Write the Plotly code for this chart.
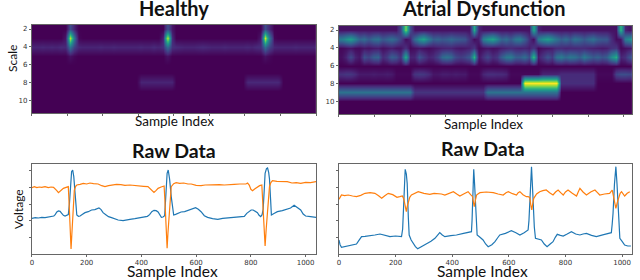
import plotly.graph_objects as go

# ---- Healthy scalogram: one list per scale, 64 columns ----
h2 = [0]*8 + [.24,.1] + [0]*20 + [.24,.06] + [0]*20 + [.24,.1] + [0]*10
h3 = [0]*7 + [.06,.9,.4,.02] + [0]*18 + [.1,.92,.12] + [0]*19 + [.06,.94,.38,.02] + [0]*9
h4 = [.1,.1,.11,.1,.11,.1,.12,.11,.38,.2,.11,.1,.1,.1,.1,.11,.1,.1,.11,.1,.1,.1,.1,.1,.11,.1,.1,.12,.1,.13,.36,.14,.12,.11,.1,.1,.1,.11,.12,.11,.1,.1,.1,.11,.1,.1,.1,.1,.11,.1,.12,.13,.36,.2,.11,.1,.1,.1,.1,.11,.1,.1,.1,.1]
h5 = [0]*8 + [.05,.02] + [0]*20 + [.05] + [0]*21 + [.05,.02] + [0]*11
h6 = [0]*64
h7 = [0]*64
h8 = [0]*24 + [.1]*8 + [0]*16 + [.11]*8 + [0]*8
h9 = [0]*64
h10 = [0]*64
h11 = [0]*64

# ---- Atrial dysfunction scalogram ----
a2 = [.05]*13 + [.2,.8,.25] + [.05]*13 + [.6,.1] + [.05]*11 + [.6,.1] + [.05]*17 + [.65,.1,.05,.05]
a2 = a2[:64]
a3 = [.42,.5,.56,.45,.32,.36,.28,.36,.38,.28,.32,.36,.3,.2,.03,.1,.35,.5,.58,.42,.3,.32,.28,.3,.34,.3,.28,.26,.14,.03,.08,.42,.52,.58,.46,.32,.36,.28,.4,.42,.3,.14,.03,.4,.5,.56,.48,.38,.3,.36,.28,.38,.34,.28,.34,.38,.3,.28,.28,.12,.03,.05,.42,.5]
a4 = [.02,.04,.06,.03,.03,.06,.05,.07,.08,.04,.06,.08,.05,.05,.14,.02,.04,.06,.04,.03,.05,.07,.09,.1,.1,.07,.06,.07,.09,.16,.02,.04,.06,.04,.05,.08,.1,.12,.1,.09,.1,.08,.16,.02,.05,.06,.08,.12,.12,.1,.11,.11,.12,.12,.1,.09,.08,.07,.08,.14,.16,.02,.04,.06]
a5 = [.04,.1,.22,.1,.06,.25,.2,.3,.32,.12,.18,.3,.26,.14,.62,.1,.1,.26,.18,.1,.12,.2,.34,.38,.34,.22,.18,.22,.28,.65,.06,.14,.22,.12,.16,.3,.4,.42,.3,.3,.36,.24,.68,.08,.16,.26,.18,.38,.42,.34,.4,.38,.3,.42,.34,.28,.32,.26,.3,.5,.62,.1,.14,.26]
a6 = [0]*64
a7 = [.14,.16,.16,.12,.07,.07,.07,.08,.07,.07,.08,.07,.02,.02,.02,.02,.15,.17,.16,.12,.06,.06,.08,.08,.07,.08,.07,.07,.02,.02,.02,.1,.13,.13,.12,.12,.1,.02,.02,.02,.02,.02,.02,.02,.1,.1,.1,.1,.12,.12,.12,.12,.12,.12,.12,.12,.02,.02,.02,.02,.2,.24,.24,.22]
a8 = [0]*40 + [1.0]*8 + [.13]*8 + [0]*8
a9 = [.38]*16 + [.15]*16 + [.38]*16 + [0]*16
a10 = [0]*64
a11 = [0]*64

scales = [2, 3, 4, 5, 6, 7, 8, 9, 10, 11]

# ---- Raw ECG traces: (sample index, voltage) ----
healthy_blue = [(0,107),(12,109),(24,108),(36,110),(48,109),(60,111),(73,112),(80,114),(85,118),(91,126),(97,129),(103,128),(109,122),(115,116),(121,114),(127,115),(133,118),(137,150),(141,215),(145,247),(149,252),(153,232),(157,190),(161,135),(164,117),(170,113),(176,114),(185,119),(194,124),(206,127),(218,132),(230,133),(245,138),(252,134),(260,124),(270,118),(280,112),(291,109),(303,106),(315,102),(333,100),(345,103),(358,104),(376,106),(394,109),(412,110),(422,113),(430,118),(438,127),(446,131),(454,130),(461,126),(467,116),(473,110),(479,111),(485,115),(490,185),(494,242),(498,252),(503,225),(509,172),(514,130),(518,117),(525,119),(533,122),(545,126),(558,127),(570,130),(584,134),(598,139),(608,134),(618,127),(630,115),(642,110),(660,106),(679,104),(697,107),(715,108),(739,110),(757,112),(776,113),(785,122),(794,129),(801,132),(808,132),(816,128),(824,124),(830,116),(836,112),(841,118),(845,135),(849,195),(852,242),(857,256),(861,258),(865,245),(868,225),(872,165),(875,117),(886,122),(897,127),(915,130),(933,134),(945,138),(958,146),(970,140),(982,132),(991,120),(1000,114),(1018,112),(1038,110)]
healthy_orange = [(0,199),(9,202),(18,199),(27,201),(36,200),(48,202),(60,199),(70,201),(79,200),(85,196),(91,190),(97,184),(106,190),(115,197),(125,200),(133,202),(136,150),(139,70),(143,15),(146,60),(150,120),(155,192),(160,203),(164,207),(176,209),(188,212),(200,210),(212,213),(225,211),(242,210),(255,205),(267,202),(280,205),(294,207),(309,209),(325,208),(340,206),(358,207),(376,205),(391,204),(408,203),(424,202),(430,197),(436,192),(442,186),(446,185),(454,191),(461,197),(472,201),(483,204),(486,160),(489,100),(494,17),(497,62),(500,102),(505,170),(509,202),(518,211),(527,214),(540,212),(555,213),(570,210),(582,210),(600,206),(618,205),(633,207),(650,208),(667,207),(685,208),(703,207),(720,209),(739,209),(760,210),(782,210),(788,213),(794,207),(800,194),(806,190),(815,196),(824,202),(832,205),(840,207),(843,160),(847,85),(852,24),(856,75),(861,142),(865,185),(868,202),(873,214),(879,220),(895,218),(915,218),(933,217),(950,213),(966,214),(982,212),(1000,215),(1018,214),(1038,217)]
atrial_blue = [(0,42),(4,28),(9,20),(20,22),(33,24),(48,28),(62,30),(70,40),(80,52),(92,53),(109,54),(127,57),(145,60),(162,56),(180,52),(200,54),(221,52),(225,75),(229,170),(234,254),(238,240),(241,212),(245,110),(248,57),(255,42),(262,32),(270,22),(278,16),(292,22),(309,30),(325,38),(339,47),(348,56),(356,64),(365,57),(374,52),(395,55),(415,57),(440,62),(468,67),(470,100),(472,142),(476,254),(479,210),(482,142),(485,80),(488,57),(498,50),(509,42),(518,30),(527,22),(540,28),(551,37),(560,48),(568,57),(588,62),(609,70),(625,64),(639,57),(654,64),(668,72),(671,100),(674,162),(680,262),(683,210),(686,142),(690,80),(694,47),(705,44),(715,42),(725,30),(735,22),(746,30),(756,37),(764,50),(771,59),(782,56),(792,54),(806,60),(821,67),(836,60),(851,57),(862,60),(874,62),(892,56),(909,52),(935,58),(962,64),(965,90),(968,122),(973,210),(978,262),(982,210),(986,142),(989,80),(992,47),(1000,38),(1009,27),(1020,24),(1031,24)]
atrial_orange = [(0,164),(5,172),(9,177),(20,175),(33,177),(48,174),(62,172),(77,176),(92,182),(110,184),(127,182),(140,175),(151,167),(162,175),(174,182),(190,178),(205,170),(215,172),(224,174),(229,165),(233,152),(236,135),(238,127),(241,142),(245,157),(250,170),(256,177),(268,183),(280,187),(300,182),(321,179),(336,182),(351,182),(362,180),(374,177),(389,183),(404,187),(416,180),(427,174),(442,181),(456,187),(465,178),(472,172),(475,155),(478,142),(482,162),(486,177),(492,181),(498,184),(520,186),(545,184),(562,180),(580,177),(590,184),(598,187),(613,181),(627,177),(633,184),(639,187),(650,178),(662,172),(668,172),(674,170),(677,150),(681,132),(684,150),(688,167),(698,180),(709,187),(720,190),(732,192),(744,184),(756,177),(765,186),(774,192),(783,184),(792,177),(800,186),(809,192),(824,182),(839,174),(845,186),(851,197),(862,186),(874,177),(889,186),(904,192),(913,184),(921,177),(938,180),(956,182),(965,192),(969,176),(972,162),(978,137),(983,155),(988,172),(993,182),(998,187),(1004,180),(1009,174),(1018,182),(1027,187)]

raw_ticks = [0, 200, 400, 600, 800, 1000]
scale_ticks = [2, 4, 6, 8, 10]
W, H = 640, 280
def xd(a, b): return [a / W, b / W]
def yd(t, b): return [1 - b / H, 1 - t / H]

fig = go.Figure()
VIR = "Viridis"
fig.add_trace(go.Heatmap(z=[h2,h3,h4,h5,h6,h7,h8,h9,h10,h11], y=scales, x0=8, dx=16, colorscale=VIR, zmin=0, zmax=1,
                         zsmooth="best", showscale=False, xaxis="x", yaxis="y"))
fig.add_trace(go.Heatmap(z=[a2,a3,a4,a5,a6,a7,a8,a9,a10,a11], y=scales, x0=8, dx=16.45, colorscale=VIR, zmin=0, zmax=1,
                         zsmooth="best", showscale=False, xaxis="x2", yaxis="y2"))
BLUE, ORANGE = "#1f77b4", "#ff7f0e"
for pts, c, ax, ay in [(healthy_blue, BLUE, "x3", "y3"), (healthy_orange, ORANGE, "x3", "y3"),
                       (atrial_blue, BLUE, "x4", "y4"), (atrial_orange, ORANGE, "x4", "y4")]:
    fig.add_trace(go.Scatter(x=[p[0] for p in pts], y=[p[1] for p in pts], mode="lines",
                             line=dict(color=c, width=1.2), showlegend=False, xaxis=ax, yaxis=ay))

FRAME = "#666666"
def axis(**k):
    d = dict(showgrid=False, zeroline=False, showline=True, linecolor=FRAME, linewidth=1, mirror=True,
             ticks="outside", ticklen=2, tickcolor=FRAME, tickfont=dict(family="DejaVu Sans", size=7, color="#333"))
    d.update(k); return d

hm_ticks = [128 * i for i in range(9)]
fig.update_layout(
    width=W, height=H, margin=dict(l=0, r=0, t=0, b=0), paper_bgcolor="white", plot_bgcolor="white", showlegend=False,
    xaxis=axis(domain=xd(30, 315), range=[0, 1024], tickvals=hm_ticks, showticklabels=False, anchor="y"),
    yaxis=axis(domain=yd(25, 113), range=[11.45, 1.55], tickvals=scale_ticks, anchor="x"),
    xaxis2=axis(domain=xd(338, 632), range=[0, 1053], tickvals=hm_ticks, showticklabels=False, anchor="y2"),
    yaxis2=axis(domain=yd(26, 114), range=[11.45, 1.55], tickvals=scale_ticks, anchor="x2"),
    xaxis3=axis(domain=xd(30, 315), range=[0, 1038], tickvals=raw_ticks, anchor="y3"),
    yaxis3=axis(domain=yd(164, 254), range=[0, 270], tickvals=[50, 100, 150, 200, 250], showticklabels=False, anchor="x3"),
    xaxis4=axis(domain=xd(338, 632), range=[0, 1035], tickvals=raw_ticks, anchor="y4"),
    yaxis4=axis(domain=yd(164, 254), range=[0, 270], tickvals=[50, 100, 150, 200, 250], showticklabels=False, anchor="x4"),
)

def label(text, x, y, size, bold=False, angle=0):
    fig.add_annotation(text=f"<b>{text}</b>" if bold else text, x=x / W, y=1 - y / H, xref="paper", yref="paper",
                       showarrow=False, textangle=angle, xanchor="center", yanchor="middle",
                       font=dict(family="Lato", size=size, color="#111"))

label("Healthy", 173, 8, 20, True)
label("Atrial Dysfunction", 484, 8, 20, True)
label("Raw Data", 173, 150, 19.5, True)
label("Raw Data", 483, 148, 19.5, True)
label("Sample Index", 173, 121, 13.5)
label("Sample Index", 483, 124, 13.5)
label("Sample Index", 171, 271, 15.5)
label("Sample Index", 482, 271, 15.5)
label("Scale", 10, 58, 12, angle=-90)
label("Voltage", 16, 209, 12, angle=-90)

fig.write_html("out.html", config={"displayModeBar": False}, post_script="document.body.style.margin='0';")
